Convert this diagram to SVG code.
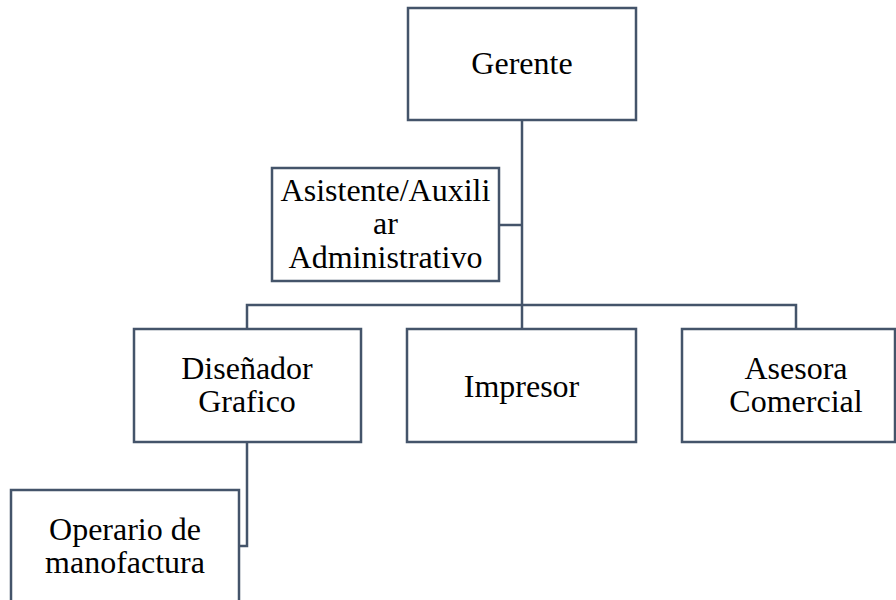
<svg xmlns="http://www.w3.org/2000/svg" width="896" height="600" viewBox="0 0 896 600">
<style>
.box{fill:#fff;stroke:#44546A;stroke-width:2.5}
.ln{fill:none;stroke:#44546A;stroke-width:2.5}
text{font-family:"Liberation Serif","Times New Roman",serif;font-size:32px;fill:#000;text-anchor:middle}
</style>
<rect width="896" height="600" fill="#fff"/>
<g id="connectors">
<path class="ln" d="M522 120V329"/>
<path class="ln" d="M499 225H522"/>
<path class="ln" d="M247 329V305H796V329"/>
<path class="ln" d="M247 442V546H239"/>
</g>
<g id="gerente">
<rect class="box" x="408" y="8" width="228" height="112"/>
<text x="522" y="74">Gerente</text>
</g>
<g id="asistente">
<rect class="box" x="272" y="168" width="227" height="113"/>
<text x="385.5" y="201">Asistente/Auxili</text>
<text x="385.5" y="234">ar</text>
<text x="385.5" y="268">Administrativo</text>
</g>
<g id="disenador">
<rect class="box" x="134" y="329" width="227" height="113"/>
<text x="247" y="379">Diseñador</text>
<text x="247" y="412">Grafico</text>
</g>
<g id="impresor">
<rect class="box" x="407" y="329" width="229" height="113"/>
<text x="521.5" y="397">Impresor</text>
</g>
<g id="asesora">
<rect class="box" x="682" y="329" width="213" height="113"/>
<text x="796" y="379">Asesora</text>
<text x="796" y="412">Comercial</text>
</g>
<g id="operario">
<rect class="box" x="11" y="490" width="228" height="120"/>
<text x="125" y="540">Operario de</text>
<text x="125" y="573">manofactura</text>
</g>
</svg>
